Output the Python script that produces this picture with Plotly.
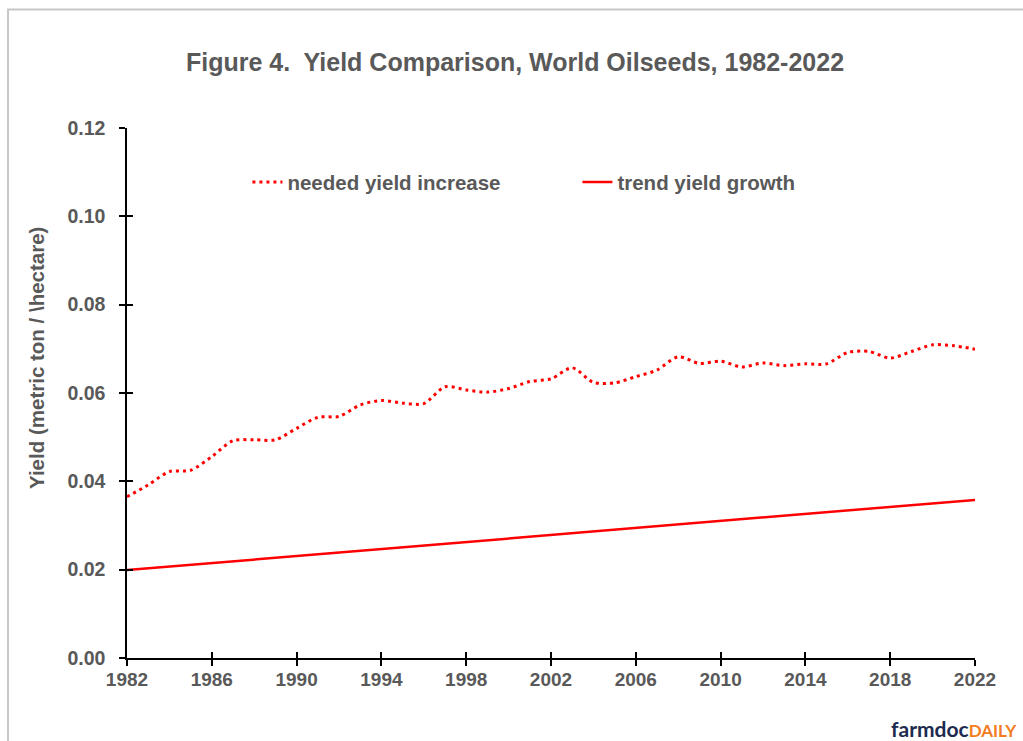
import plotly.graph_objects as go

# Marketing years
years = list(range(1982, 2023))

# Yield increase needed each year (metric ton / hectare)
needed_yield = [0.0365, 0.0392, 0.0422, 0.0425, 0.0456, 0.0492, 0.0494, 0.0494,
                0.0520, 0.0545, 0.0547, 0.0573, 0.0583, 0.0577, 0.0576, 0.0614,
                0.0607, 0.0602, 0.0610, 0.0626, 0.0632, 0.0657, 0.0624, 0.0623,
                0.0637, 0.0652, 0.0682, 0.0667, 0.0672, 0.0659, 0.0668, 0.0662,
                0.0666, 0.0666, 0.0692, 0.0694, 0.0679, 0.0694, 0.0709, 0.0707,
                0.0699]

# Annual growth of trend yield (metric ton / hectare)
trend_growth = [0.0199, 0.0203, 0.0207, 0.0211, 0.0215, 0.0218, 0.0222, 0.0226,
                0.0230, 0.0234, 0.0238, 0.0242, 0.0246, 0.0250, 0.0254, 0.0258,
                0.0262, 0.0266, 0.0270, 0.0274, 0.0278, 0.0282, 0.0286, 0.0290,
                0.0294, 0.0298, 0.0302, 0.0306, 0.0310, 0.0314, 0.0318, 0.0322,
                0.0326, 0.0330, 0.0334, 0.0338, 0.0342, 0.0346, 0.0350, 0.0354,
                0.0358]

x_ticks = list(range(1982, 2023, 4))
y_ticks = [0.00, 0.02, 0.04, 0.06, 0.08, 0.10, 0.12]

TEXT = "#595959"
RED = "#ff0000"
FONT = "Liberation Sans, Arial, sans-serif"

fig = go.Figure()

fig.add_trace(go.Scatter(
    x=years, y=needed_yield, name="needed yield increase", mode="lines",
    line=dict(color=RED, width=3, dash="3px,4px", shape="spline", smoothing=0.8),
))
fig.add_trace(go.Scatter(
    x=years, y=trend_growth, name="trend yield growth", mode="lines",
    line=dict(color=RED, width=2.5),
))
# Transparent companion trace so the overlay axes (inner half of the ticks) render
fig.add_trace(go.Scatter(
    x=years, y=trend_growth, xaxis="x2", yaxis="y2", mode="lines",
    line=dict(width=0), opacity=0, showlegend=False, hoverinfo="skip",
))

axis_common = dict(showgrid=False, zeroline=False, ticklen=6, tickwidth=1.5,
                   tickcolor="black")

fig.update_layout(
    width=1023, height=741,
    margin=dict(l=127, r=48, t=128, b=83),
    paper_bgcolor="white", plot_bgcolor="white",
    font=dict(family=FONT, color=TEXT),
    title=dict(
        text="<b>Figure 4.  Yield Comparison, World Oilseeds, 1982-2022</b>",
        x=(515 - 127) / 848, xref="paper", xanchor="center",
        y=1 - 62 / 741, yanchor="middle",
        font=dict(size=25, color=TEXT, family=FONT),
    ),
    xaxis=dict(
        range=[1982, 2022], tickvals=x_ticks, ticks="outside",
        showline=True, linecolor="black", linewidth=1.5,
        tickfont=dict(size=19, color=TEXT, family=FONT, weight="bold"),
        ticklabelstandoff=-3,
        **axis_common,
    ),
    yaxis=dict(
        range=[0, 0.12], tickvals=y_ticks, tickformat=".2f", ticks="outside",
        showline=True, linecolor="black", linewidth=1.5,
        tickfont=dict(size=19.5, color=TEXT, family=FONT, weight="bold"),
        ticklabelstandoff=10,
        **axis_common,
    ),
    xaxis2=dict(overlaying="x", matches="x", anchor="y", ticks="inside",
                tickvals=x_ticks, showticklabels=False, showline=False,
                **axis_common),
    yaxis2=dict(overlaying="y", matches="y", anchor="x", ticks="inside",
                tickvals=y_ticks, showticklabels=False, showline=False,
                **axis_common),
    legend=dict(
        orientation="h", x=0.142, xanchor="left", y=0.898, yanchor="middle",
        bgcolor="rgba(0,0,0,0)", entrywidth=285, entrywidthmode="pixels",
        font=dict(size=20.5, color=TEXT, family=FONT, weight="bold"),
    ),
    showlegend=True,
)

# Vertical axis title
fig.add_annotation(
    xref="paper", yref="paper", x=(36 - 127) / 848, y=(658 - 358) / 530,
    xanchor="center", yanchor="middle", showarrow=False, textangle=-90,
    text="<b>Yield (metric ton / \\hectare)</b>",
    font=dict(size=20.5, color=TEXT, family=FONT),
)

# Border around the chart area
fig.add_shape(type="rect", xref="paper", yref="paper",
              x0=(8 - 127) / 848, x1=(1040 - 127) / 848,
              y0=(658 - 760) / 530, y1=(658 - 9.5) / 530,
              line=dict(color="#c8c8c8", width=2), fillcolor="rgba(0,0,0,0)",
              layer="below")

# farmdocDAILY wordmark
fig.add_annotation(
    xref="paper", yref="paper", x=(1019 - 127) / 848, y=(658 - 728) / 530,
    xanchor="right", yanchor="middle", showarrow=False,
    text=("<b><span style='color:#1c2b4f;font-size:21px'>farmdoc</span>"
          "<span style='color:#f47b20;font-size:17px'>DAILY</span></b>"),
    font=dict(family="Lato, Open Sans, sans-serif"),
)

fig.write_html("out.html")
